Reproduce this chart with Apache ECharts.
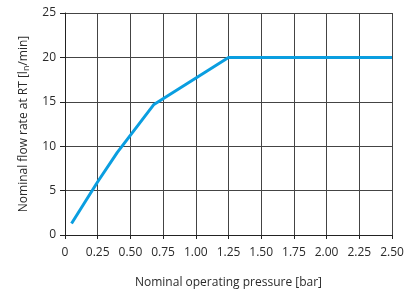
<!DOCTYPE html>
<html>
<head>
<meta charset="utf-8">
<script src="https://cdn.jsdelivr.net/npm/echarts@6/dist/echarts.min.js"></script>
<style>
  html, body { margin: 0; padding: 0; background: #fff; }
  #chart { width: 411px; height: 291px; }
</style>
</head>
<body>
<div id="chart"></div>
<script>
// pressure [bar] vs flow rate [ln/min]
var pressure = [0.05, 0.25, 0.4, 0.68, 1.25, 2.5];
var flow = [1.3, 6.0, 9.3, 14.7, 20, 20];

var chart = echarts.init(document.getElementById('chart'));
var font = '"Open Sans", "Noto Sans", sans-serif';

var option = {
    animation: false,
    grid: { left: 65, right: 19, top: 13, bottom: 56, outerBoundsMode: 'none', containLabel: false },
    xAxis: {
        type: 'value',
        min: 0, max: 2.5, interval: 0.25,
        name: 'Nominal operating pressure [bar]',
        nameLocation: 'middle',
        nameGap: 42,
        nameTextStyle: { color: '#2a2a2a', fontSize: 12, fontFamily: font },
        axisLine: { show: true, lineStyle: { color: '#222', width: 1 } },
        axisTick: { show: true, length: 4, lineStyle: { color: '#222' } },
        axisLabel: {
            color: '#2a2a2a', fontSize: 12, fontFamily: font, margin: 12,
            formatter: function (v) { return v === 0 ? '0' : v.toFixed(2); }
        },
        splitLine: { show: true, lineStyle: { color: '#444', width: 1 } }
    },
    yAxis: {
        type: 'value',
        min: 0, max: 25, interval: 5,
        name: '{t|Nominal flow rate at RT [l}{s|n}{t|/min]}',
        nameLocation: 'middle',
        nameGap: 33,
        nameTextStyle: {
            color: '#2a2a2a', fontFamily: font,
            rich: {
                t: { fontSize: 12, color: '#2a2a2a', fontFamily: font },
                s: { fontSize: 9, color: '#2a2a2a', fontFamily: font, verticalAlign: 'bottom', padding: [6, 0, 0, 0] }
            }
        },
        axisLine: { show: true, lineStyle: { color: '#222', width: 1 } },
        axisTick: { show: true, length: 5, lineStyle: { color: '#222' } },
        axisLabel: { color: '#2a2a2a', fontSize: 12, fontFamily: font, margin: 9 },
        splitLine: { show: true, lineStyle: { color: '#444', width: 1 } }
    },
    series: [{
        type: 'line',
        data: pressure.map(function (p, i) { return [p, flow[i]]; }),
        showSymbol: false,
        lineStyle: { color: '#0a9ee0', width: 3 }
    }]
};
chart.setOption(option);
</script>
</body>
</html>
